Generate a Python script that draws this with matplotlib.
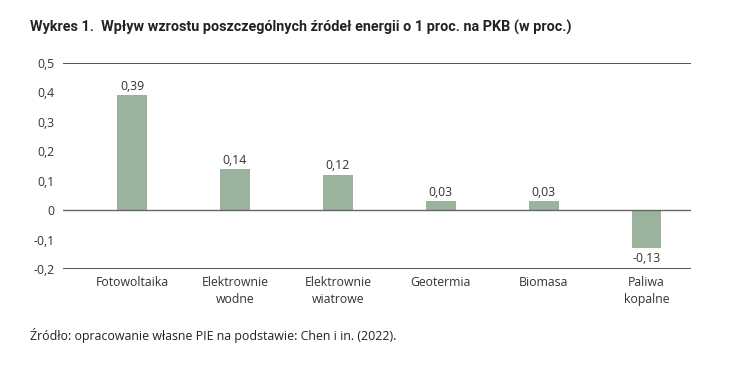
import matplotlib.pyplot as plt

categories = ["Fotowoltaika", "Elektrownie\nwodne", "Elektrownie\nwiatrowe",
              "Geotermia", "Biomasa", "Paliwa\nkopalne"]
values = [0.39, 0.14, 0.12, 0.03, 0.03, -0.13]
yticks = [-0.2, -0.1, 0, 0.1, 0.2, 0.3, 0.4, 0.5]

plt.rcParams['font.family'] = ['Open Sans', 'DejaVu Sans']

fig = plt.figure(figsize=(7.36, 3.72), dpi=100)
ax = fig.add_axes([0.0856, 0.277, 0.853, 0.554])

x = list(range(len(categories)))
ax.bar(x, values, width=0.29, color='#9bb39c', zorder=3)

for xi, v in zip(x, values):
    label = f"{v:.2f}".replace('.', ',')
    if v >= 0:
        ax.text(xi, v + 0.008, label, ha='center', va='bottom', fontsize=8.8, color='#333333')
    else:
        ax.text(xi, v - 0.012, label, ha='center', va='top', fontsize=8.8, color='#333333')

ax.set_xlim(-0.67, 5.43)
ax.set_ylim(-0.2, 0.5)
ax.set_yticks(yticks)
ax.set_yticklabels([f"{t:g}".replace('.', ',') for t in yticks], fontsize=8.8, color='#333333')
ax.set_xticks(x)
ax.set_xticklabels(categories, fontsize=8.8, color='#333333', linespacing=1.4)
ax.tick_params(axis='both', length=0, pad=5)
ax.tick_params(axis='y', pad=6)

for s in ax.spines.values():
    s.set_visible(False)
ax.axhline(0.5, color='#222222', lw=1.1, zorder=2)
ax.axhline(-0.2, color='#222222', lw=1.1, zorder=2)
ax.axhline(0, color='#666666', lw=1.0, zorder=4)

fig.text(0.041, 0.915, "Wykres 1.  Wpływ wzrostu poszczególnych źródeł energii o 1 proc. na PKB (w proc.)",
         fontsize=10.4, fontweight='bold', color='#222222', family=['Roboto', 'DejaVu Sans'])
fig.text(0.041, 0.085, "Źródło: opracowanie własne PIE na podstawie: Chen i in. (2022).",
         fontsize=8.9, color='#222222')

fig.savefig("out.png", dpi=100)
